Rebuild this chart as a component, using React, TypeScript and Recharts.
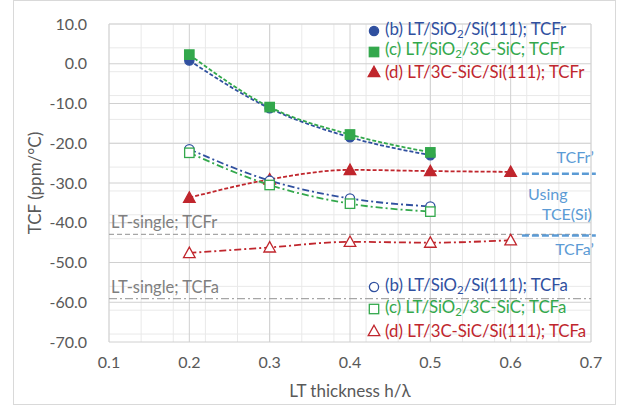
import React from "react";
import {
  LineChart,
  Line,
  XAxis,
  YAxis,
  CartesianGrid,
  ReferenceLine,
} from "recharts";

// LT thickness h/λ
const thickness = [0.2, 0.3, 0.4, 0.5];
const thicknessD = [0.2, 0.3, 0.4, 0.5, 0.6];

// TCFr (resonance), ppm/°C
const tcfrB = [0.8, -11.2, -18.5, -23.0];
const tcfrC = [2.3, -10.9, -17.8, -22.3];
const tcfrD = [-33.7, -29.1, -26.7, -27.0, -27.2];

// TCFa (anti-resonance), ppm/°C
const tcfaB = [-21.5, -29.4, -33.9, -35.9];
const tcfaC = [-22.4, -30.5, -35.2, -37.2];
const tcfaD = [-47.6, -46.2, -44.8, -45.0, -44.4];

// reference levels
const ltSingleR = -42.9;
const ltSingleA = -59.1;
const tcfrPrime = -27.7;
const tcfaPrime = -43.2;
const primeFrom = 0.614;
const primeTo = 0.706;

const xTicks = [0.1, 0.2, 0.3, 0.4, 0.5, 0.6, 0.7];
const yTicks = [-70, -60, -50, -40, -30, -20, -10, 0, 10];

const BLUE = "#30509f";
const GREEN = "#33a84c";
const RED = "#c0262d";
const LIGHT_BLUE = "#5b9bd5";
const GRAY = "#7f7f7f";
const AXIS_TEXT = "#595959";
const FONT = "Lato, 'Open Sans', sans-serif";

// minor grid every 1/5 of a major step
const minorX = Array.from({ length: 31 }, (_, i) => +(0.1 + i * 0.02).toFixed(2));
const minorY = Array.from({ length: 41 }, (_, i) => -70 + i * 2);

const toPoints = (xs: number[], ys: number[]) =>
  xs.map((x, i) => ({ x, y: ys[i] }));

type Shape = "circle" | "square" | "triangle";

const Marker = ({
  shape,
  cx,
  cy,
  color,
  filled,
}: {
  shape: Shape;
  cx: number;
  cy: number;
  color: string;
  filled: boolean;
}) => {
  const fill = filled ? color : "#ffffff";
  if (shape === "circle")
    return <circle cx={cx} cy={cy} r={4.6} fill={fill} stroke={color} strokeWidth={1.3} />;
  if (shape === "square")
    return (
      <rect x={cx - 4.7} y={cy - 4.7} width={9.4} height={9.4} fill={fill} stroke={color} strokeWidth={1.3} />
    );
  return (
    <polygon
      points={`${cx},${cy - 5.8} ${cx + 5.8},${cy + 4.6} ${cx - 5.8},${cy + 4.6}`}
      fill={fill}
      stroke={color}
      strokeWidth={1.3}
    />
  );
};

const makeDot = (shape: Shape, color: string, filled: boolean) => (props: any) => (
  <Marker
    key={`${shape}-${color}-${filled}-${props.index}`}
    shape={shape}
    cx={props.cx}
    cy={props.cy}
    color={color}
    filled={filled}
  />
);

// text placed relative to a reference line's box
const lineText =
  (
    lines: { text: string; dx: number; dy: number; anchor: "start" | "middle" | "end" }[],
    color: string,
    size: number,
    fromRight = false
  ) =>
  (props: any) => {
    const vb = props.viewBox || {};
    const baseX = fromRight ? vb.x + vb.width : vb.x;
    return (
      <g>
        {lines.map((l) => (
          <text
            key={l.text}
            x={baseX + l.dx}
            y={vb.y + l.dy}
            textAnchor={l.anchor}
            fill={color}
            fontSize={size}
            fontFamily={FONT}
          >
            {l.text}
          </text>
        ))}
      </g>
    );
  };

const series = [
  { name: "b-r", xs: thickness, ys: tcfrB, color: BLUE, shape: "circle" as Shape, filled: true, dash: "4 2" },
  { name: "c-r", xs: thickness, ys: tcfrC, color: GREEN, shape: "square" as Shape, filled: true, dash: "4 2" },
  { name: "d-r", xs: thicknessD, ys: tcfrD, color: RED, shape: "triangle" as Shape, filled: true, dash: "4 2" },
  { name: "b-a", xs: thickness, ys: tcfaB, color: BLUE, shape: "circle" as Shape, filled: false, dash: "7 3 2 3" },
  { name: "c-a", xs: thickness, ys: tcfaC, color: GREEN, shape: "square" as Shape, filled: false, dash: "7 3 2 3" },
  { name: "d-a", xs: thicknessD, ys: tcfaD, color: RED, shape: "triangle" as Shape, filled: false, dash: "7 3 2 3" },
];

const topLegend = [
  { color: BLUE, shape: "circle" as Shape, pre: "(b) LT/SiO", sub: "2", post: "/Si(111); TCFr" },
  { color: GREEN, shape: "square" as Shape, pre: "(c) LT/SiO", sub: "2", post: "/3C-SiC; TCFr" },
  { color: RED, shape: "triangle" as Shape, pre: "(d) LT/3C-SiC/Si(111); TCFr", sub: "", post: "" },
];

const bottomLegend = [
  { color: BLUE, shape: "circle" as Shape, pre: "(b) LT/SiO", sub: "2", post: "/Si(111); TCFa" },
  { color: GREEN, shape: "square" as Shape, pre: "(c) LT/SiO", sub: "2", post: "/3C-SiC; TCFa" },
  { color: RED, shape: "triangle" as Shape, pre: "(d) LT/3C-SiC/Si(111); TCFa", sub: "", post: "" },
];

const LegendBlock = ({
  items,
  filled,
  top,
  step,
}: {
  items: typeof topLegend;
  filled: boolean;
  top: number;
  step: number;
}) => (
  <>
    {items.map((it, i) => (
      <div
        key={it.pre + i}
        style={{
          position: "absolute",
          left: 367,
          top: top + i * step - 10,
          height: 20,
          lineHeight: "20px",
          fontSize: 16.8,
          fontFamily: FONT,
          color: it.color,
          whiteSpace: "nowrap",
          display: "flex",
          alignItems: "center",
        }}
      >
        <svg width={14} height={14} style={{ marginRight: 4 }}>
          <Marker shape={it.shape} cx={7} cy={7} color={it.color} filled={filled} />
        </svg>
        <span>
          {it.pre}
          {it.sub && <sub style={{ fontSize: 11.5, verticalAlign: "-3px" }}>{it.sub}</sub>}
          {it.post}
        </span>
      </div>
    ))}
  </>
);

const App: React.FC = () => (
  <div
    style={{
      position: "absolute",
      left: 0,
      top: 0,
      width: 622,
      height: 405,
      background: "#ffffff",
      fontFamily: FONT,
    }}
  >
    <div
      style={{
        position: "absolute",
        left: 13,
        top: 0,
        width: 601,
        height: 403,
        border: "1px solid #d9d9d9",
      }}
    />
    <LineChart width={622} height={405} margin={{ top: 24, right: 31, bottom: 0, left: 0 }}>
      <CartesianGrid
        stroke="#e9e9e9"
        horizontalValues={minorY}
        verticalValues={minorX}
      />
      <CartesianGrid
        stroke="#d0d0d0"
        horizontalValues={yTicks}
        verticalValues={xTicks}
      />
      <XAxis
        type="number"
        dataKey="x"
        domain={[0.1, 0.7]}
        ticks={xTicks}
        tickFormatter={(v: number) => v.toFixed(1)}
        axisLine={false}
        tickLine={false}
        tickSize={0}
        tickMargin={15}
        height={63}
        tick={{ fill: AXIS_TEXT, fontSize: 16, fontFamily: FONT }}
        allowDuplicatedCategory={false}
        label={{
          value: "LT thickness h/λ",
          position: "insideBottom",
          offset: 8,
          fill: AXIS_TEXT,
          fontSize: 17,
          fontFamily: FONT,
        }}
      />
      <YAxis
        type="number"
        domain={[-70, 10]}
        ticks={yTicks}
        tickFormatter={(v: number) => v.toFixed(1)}
        axisLine={false}
        tickLine={false}
        tickSize={0}
        tickMargin={22}
        width={109}
        tick={{ fill: AXIS_TEXT, fontSize: 16, fontFamily: FONT }}
        label={{
          value: "TCF  (ppm/°C)",
          angle: -90,
          position: "insideLeft",
          offset: 35,
          style: { textAnchor: "middle", whiteSpace: "pre" },
          fill: AXIS_TEXT,
          fontSize: 17,
          fontFamily: FONT,
        }}
      />
      <ReferenceLine
        y={ltSingleR}
        stroke="#a6a6a6"
        strokeWidth={1.3}
        strokeDasharray="5 3"
        label={lineText([{ text: "LT-single; TCFr", dx: 2, dy: -6, anchor: "start" }], GRAY, 16.5)}
      />
      <ReferenceLine
        y={ltSingleA}
        stroke="#a6a6a6"
        strokeWidth={1.3}
        strokeDasharray="8 3 2 3"
        label={lineText([{ text: "LT-single; TCFa", dx: 2, dy: -6, anchor: "start" }], GRAY, 16.5)}
      />
      <ReferenceLine
        segment={[
          { x: primeFrom, y: tcfrPrime },
          { x: primeTo, y: tcfrPrime },
        ]}
        ifOverflow="visible"
        stroke={LIGHT_BLUE}
        strokeWidth={2.5}
        strokeDasharray="7 3"
        label={lineText(
          [
            { text: "TCFr’", dx: -2, dy: -11, anchor: "end" },
            { text: "Using", dx: -48, dy: 26, anchor: "middle" },
            { text: "TCE(Si)", dx: -4, dy: 46, anchor: "end" },
          ],
          LIGHT_BLUE,
          16,
          true
        )}
      />
      <ReferenceLine
        segment={[
          { x: primeFrom, y: tcfaPrime },
          { x: primeTo, y: tcfaPrime },
        ]}
        ifOverflow="visible"
        stroke={LIGHT_BLUE}
        strokeWidth={2.5}
        strokeDasharray="7 3"
        label={lineText([{ text: "TCFa’", dx: -2, dy: 20, anchor: "end" }], LIGHT_BLUE, 16, true)}
      />
      {series.map((s) => (
        <Line
          key={s.name}
          data={toPoints(s.xs, s.ys)}
          dataKey="y"
          type="monotone"
          stroke={s.color}
          strokeWidth={1.8}
          strokeDasharray={s.dash}
          dot={makeDot(s.shape, s.color, s.filled)}
          activeDot={false}
          isAnimationActive={false}
        />
      ))}
    </LineChart>
    <LegendBlock items={topLegend} filled top={31} step={20.5} />
    <LegendBlock items={bottomLegend} filled={false} top={287} step={22} />
  </div>
);

export default App;
